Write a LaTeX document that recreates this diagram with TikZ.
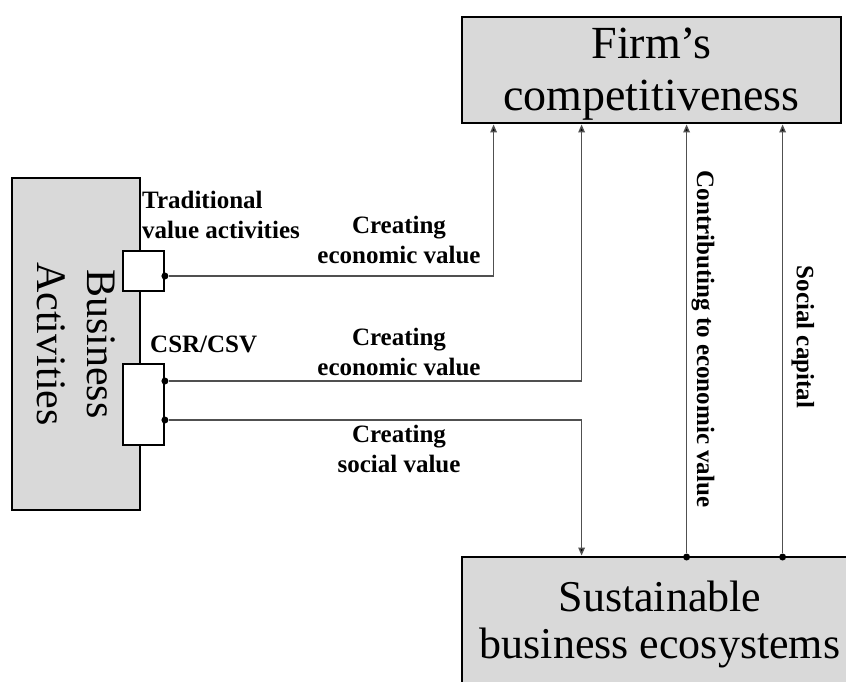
\documentclass[tikz,border=0pt]{standalone}
\usepackage{fontspec}
\setmainfont{Liberation Serif}
\usetikzlibrary{arrows.meta}
\definecolor{boxgray}{HTML}{D9D9D9}
\definecolor{linegray}{HTML}{505050}
\newcommand{\twolines}[3]{\raisebox{#1}[\height][\depth]{\begin{tabular}{@{}c@{}}#2\\#3\end{tabular}}}
\begin{document}
\begin{tikzpicture}[x=1pt,y=-1pt,
  bigbox/.style={draw=black, fill=boxgray, line width=2.8pt, inner sep=0pt, align=center,
    font=\fontsize{46}{52}\selectfont},
  sidebox/.style={draw=black, fill=boxgray, line width=2.4pt, inner sep=0pt, align=center,
    font=\fontsize{42}{50}\selectfont},
  port/.style={draw=black, fill=white, line width=1.8pt, inner sep=0pt},
  conn/.style={draw=linegray, line width=1.4pt},
  arr/.style={conn, -{Triangle[length=8pt,width=6.5pt,fill=black]}},
  dotc/.style={fill=black, circle, inner sep=0pt, minimum size=7pt},
  lbl/.style={font=\fontsize{25}{30}\selectfont\bfseries, inner sep=0pt},
]
\useasboundingbox (0,0) rectangle (846,682);
% boxes
\node[bigbox, minimum width=379pt, minimum height=106pt] (firm) at (651.5,70) {\twolines{-4pt}{Firm’s}{competitiveness}};
\node[bigbox, font=\fontsize{44}{47}\selectfont, minimum width=396pt, minimum height=140pt] (eco) at (660,627) {\twolines{1pt}{Sustainable}{business ecosystems}};
\node[sidebox, rotate=-90, minimum width=332pt, minimum height=128pt] (ba) at (76,344) {Business\\Activities};
\node[port, minimum width=41pt, minimum height=40pt] (p1) at (143.5,271) {};
\node[port, minimum width=41pt, minimum height=81pt] (p2) at (143.5,404.5) {};
% dots
\node[dotc] (d1) at ([yshift=-5pt]p1.east) {};
\node[dotc] (d2) at ([yshift=23.5pt]p2.east) {};
\node[dotc] (d3) at ([yshift=-15.5pt]p2.east) {};
\node[dotc] (e1) at ([xshift=226pt,yshift=-1.4pt]eco.north west) {};
\node[dotc] (e2) at ([xshift=322pt,yshift=-1.4pt]eco.north west) {};
% connectors
\draw[arr] (d1) -| ([xshift=33pt]firm.south west);
\draw[arr] (d2) -| ([xshift=121pt]firm.south west);
\draw[arr] (d3) -| ([xshift=121pt]eco.north west);
\draw[arr] (e1) -- (e1 |- firm.south);
\draw[arr] (e2) -- (e2 |- firm.south);
% labels
\node[lbl, anchor=base west, align=left] (trad) at (142,238) {Traditional\\value activities};
\node[lbl, anchor=base west] (csr) at (150,352) {CSR/CSV};
\node[lbl, anchor=base, align=center] (ce1) at (399,263) {Creating\\economic value};
\node[lbl, anchor=base, align=center] (ce2) at (399,375) {Creating\\economic value};
\node[lbl, anchor=base, align=center] (cs) at (399,472) {Creating\\social value};
\node[lbl, rotate=-90] (contrib) at (703,339) {Contributing to economic value};
\node[lbl, rotate=-90] (soc) at (803,337) {Social capital};
\end{tikzpicture}
\end{document}
